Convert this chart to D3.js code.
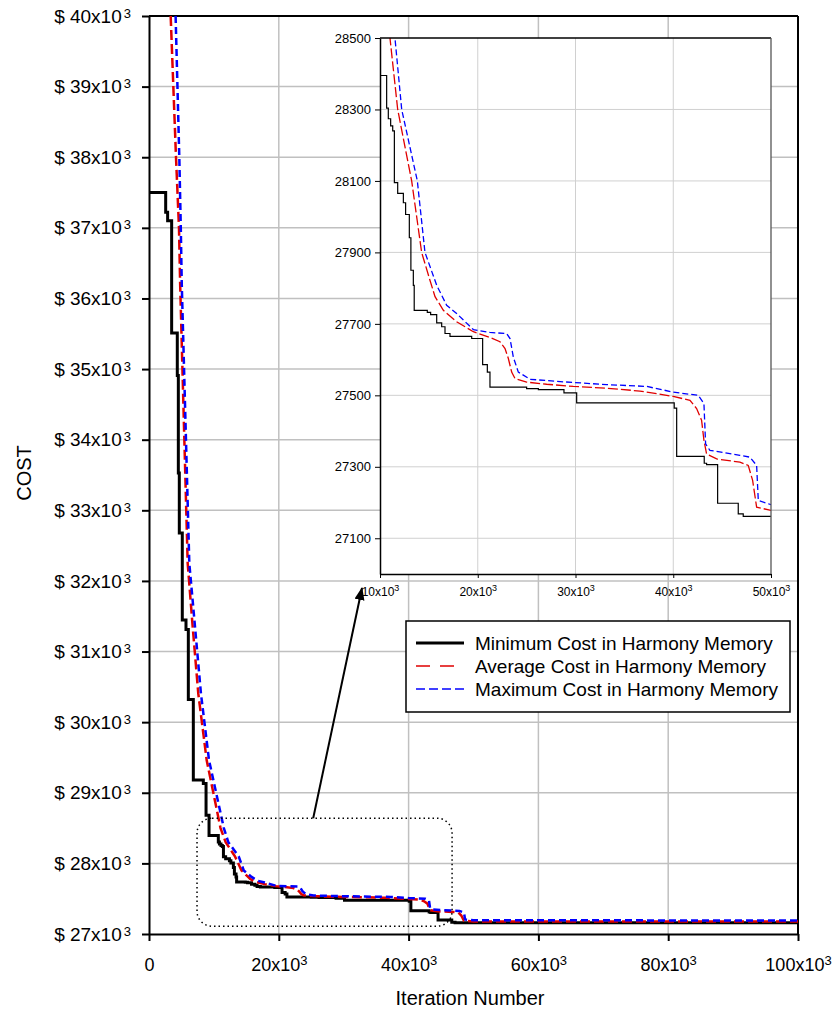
<!DOCTYPE html>
<html>
<head>
<meta charset="utf-8">
<script src="https://cdn.jsdelivr.net/npm/d3@7"></script>
<style>
  body { margin: 0; background: #fff; }
  svg { font-family: "Liberation Sans", Arial, sans-serif; }
</style>
</head>
<body>
<svg></svg>
<script>
const width = 834;
const height = 1010;

// minimum cost in harmony memory (step line)
const minIter = [0, 2570, 2870, 3490, 4360, 4520, 4670, 5130, 5700, 6060, 6830, 8370, 8790, 9250,
  10680, 10850, 11090, 11300, 11470, 11810, 12390, 12620, 13000, 13160, 13410, 13500, 14840, 15180,
  15800, 16310, 16650, 17160, 19380, 20500, 20980, 21250, 25000, 26200, 28820, 30120, 40100, 40350,
  43170, 43410, 44540, 46650, 47160, 100000];
const minCost = [37500, 37220, 37100, 35510, 34910, 33530, 32680, 31445, 31313, 30320, 29180, 29130, 28680, 28395,
  28304, 28274, 28254, 28240, 28095, 28065, 28039, 28006, 27941, 27850, 27808, 27738, 27732, 27726,
  27703, 27692, 27673, 27665, 27659, 27586, 27565, 27523, 27519, 27516, 27507, 27479, 27464, 27329,
  27310, 27306, 27198, 27168, 27161, 27161];

// average cost in harmony memory
const avgIter = [3340, 4160, 4620, 4800, 5960, 6730, 7600, 8890, 11020, 11810, 13240, 14260, 15110, 15630,
  16480, 17840, 19550, 21250, 22270, 22790, 23130, 23470, 23810, 25000, 27050, 29780, 33180, 36590,
  40000, 41710, 42390, 42900, 43140, 43410, 44440, 46820, 47670, 48120, 48530, 50000, 100000];
const avgCost = [40000, 38000, 37000, 36200, 32250, 31350, 30400, 29460, 28500, 28300, 28100, 27900, 27822, 27776,
  27738, 27706, 27678, 27662, 27650, 27631, 27603, 27565, 27547, 27537, 27531, 27525, 27520, 27512,
  27497, 27486, 27463, 27430, 27374, 27336, 27322, 27313, 27304, 27262, 27187, 27178, 27176];

// maximum cost in harmony memory
const maxIter = [4100, 4670, 4900, 5050, 6210, 7090, 8010, 9250, 11530, 12220, 13820, 14600, 15800, 16820,
  17840, 19550, 21250, 22960, 23300, 23640, 24150, 25340, 28070, 33180, 37270, 40000, 42560, 43140,
  43310, 43750, 46820, 47840, 48530, 48700, 50000, 100000];
const maxCost = [40000, 38000, 37000, 36200, 32250, 31350, 30400, 29460, 28500, 28300, 28100, 27900, 27808, 27752,
  27729, 27684, 27676, 27673, 27659, 27607, 27565, 27545, 27539, 27530, 27525, 27509, 27500, 27477,
  27364, 27346, 27332, 27327, 27304, 27206, 27194, 27192];

const xTicks = [0, 20000, 40000, 60000, 80000, 100000];
const yTicks = [27000, 28000, 29000, 30000, 31000, 32000, 33000, 34000, 35000, 36000, 37000, 38000, 39000, 40000];
const insetXTicks = [10000, 20000, 30000, 40000, 50000];
const insetYTicks = [27100, 27300, 27500, 27700, 27900, 28100, 28300, 28500];
const seriesNames = ["Minimum Cost in Harmony Memory", "Average Cost in Harmony Memory", "Maximum Cost in Harmony Memory"];
const seriesColors = ["#000000", "#e00000", "#0000ff"];

// dotted region that the inset zooms into (iterations, cost)
const zoomX = [7400, 46700];
const zoomY = [27110, 28640];

const minData = d3.zip(minIter, minCost);
const avgData = d3.zip(avgIter, avgCost);
const maxData = d3.zip(maxIter, maxCost);

let svg = d3.select("svg")
    .attr("width", width)
    .attr("height", height);

const x = d3.scaleLinear().domain([0, 100000]).range([149, 798]);
const y = d3.scaleLinear().domain([27000, 40000]).range([934, 16]);

const defs = svg.append("defs");
defs.append("clipPath").attr("id", "mainClip")
  .append("rect").attr("x", 149).attr("y", 16).attr("width", 649).attr("height", 918);

// grid
svg.append("g").selectAll("line").data(xTicks.slice(1, -1)).join("line")
  .attr("x1", d => x(d)).attr("x2", d => x(d))
  .attr("y1", y(27000)).attr("y2", y(40000))
  .attr("stroke", "#c0c0c0").attr("stroke-width", 1.5);
svg.append("g").selectAll("line").data(yTicks.slice(1, -1)).join("line")
  .attr("y1", d => y(d)).attr("y2", d => y(d))
  .attr("x1", x(0)).attr("x2", x(100000))
  .attr("stroke", "#c0c0c0").attr("stroke-width", 1.5);

// axes
const xAxis = svg.append("g")
  .attr("transform", `translate(0,${y(27000)})`)
  .call(d3.axisBottom(x).tickValues(xTicks).tickSize(7).tickSizeOuter(0)
    .tickFormat(d => d === 0 ? "0" : (d / 1000) + "x10"));
xAxis.select(".domain").attr("stroke-width", 2);
xAxis.selectAll(".tick line").attr("stroke-width", 2);
xAxis.selectAll(".tick text")
  .attr("y", 24).attr("font-size", 18).attr("fill", "#000")
  .each(function(d) {
    if (d !== 0) d3.select(this).append("tspan").attr("dy", -6).attr("font-size", 13).text("3");
  });

const yAxis = svg.append("g")
  .attr("transform", `translate(${x(0)},0)`)
  .call(d3.axisLeft(y).tickValues(yTicks).tickSize(7).tickSizeOuter(0)
    .tickFormat(d => "$ " + (d / 1000) + "x10"));
yAxis.select(".domain").attr("stroke-width", 2);
yAxis.selectAll(".tick line").attr("stroke-width", 2);
yAxis.selectAll(".tick text")
  .attr("x", -18).attr("font-size", 19).attr("fill", "#000")
  .each(function() {
    d3.select(this).append("tspan").attr("dx", 2).attr("dy", -5).attr("font-size", 13).text("3");
  });

// top and right frame
svg.append("line").attr("x1", x(0)).attr("x2", x(100000)).attr("y1", y(40000)).attr("y2", y(40000))
  .attr("stroke", "#000").attr("stroke-width", 2);
svg.append("line").attr("x1", x(100000)).attr("x2", x(100000)).attr("y1", y(40000)).attr("y2", y(27000))
  .attr("stroke", "#000").attr("stroke-width", 2);

// main series
const lineMain = d3.line().x(d => x(d[0])).y(d => y(d[1]));
const mainLines = svg.append("g").attr("clip-path", "url(#mainClip)");
mainLines.append("path").datum(minData)
  .attr("d", lineMain.curve(d3.curveStepAfter))
  .attr("fill", "none").attr("stroke", seriesColors[0]).attr("stroke-width", 3);
lineMain.curve(d3.curveLinear);
mainLines.append("path").datum(avgData)
  .attr("d", lineMain)
  .attr("fill", "none").attr("stroke", seriesColors[1]).attr("stroke-width", 2.5)
  .attr("stroke-dasharray", "10,4");
mainLines.append("path").datum(maxData)
  .attr("d", lineMain)
  .attr("fill", "none").attr("stroke", seriesColors[2]).attr("stroke-width", 2.5)
  .attr("stroke-dasharray", "7,4");

// dotted zoom region
svg.append("rect")
  .attr("x", x(zoomX[0])).attr("y", y(zoomY[1]))
  .attr("width", x(zoomX[1]) - x(zoomX[0])).attr("height", y(zoomY[0]) - y(zoomY[1]))
  .attr("rx", 15).attr("ry", 15)
  .attr("fill", "none").attr("stroke", "#000").attr("stroke-width", 1.5)
  .attr("stroke-dasharray", "1.5,3");

// axis titles
svg.append("text")
  .attr("transform", "translate(31,473) rotate(-90)")
  .attr("text-anchor", "middle").attr("font-size", 20).text("COST");
svg.append("text")
  .attr("x", 470).attr("y", 1005)
  .attr("text-anchor", "middle").attr("font-size", 20).text("Iteration Number");

// ---- inset ----
const ix = d3.scaleLinear().domain([10000, 50000]).range([380, 771]);
const iy = d3.scaleLinear().domain([27000, 28500]).range([574, 38]);

defs.append("clipPath").attr("id", "insetClip")
  .append("rect").attr("x", ix(10000)).attr("y", iy(28500))
  .attr("width", ix(50000) - ix(10000)).attr("height", iy(27000) - iy(28500));

const inset = svg.append("g");
inset.append("rect")
  .attr("x", ix(10000)).attr("y", iy(28500))
  .attr("width", ix(50000) - ix(10000)).attr("height", iy(27000) - iy(28500))
  .attr("fill", "#fff");

inset.append("g").selectAll("line").data(insetXTicks.slice(1, -1)).join("line")
  .attr("x1", d => ix(d)).attr("x2", d => ix(d))
  .attr("y1", iy(27000)).attr("y2", iy(28500))
  .attr("stroke", "#d0d0d0").attr("stroke-width", 1);
inset.append("g").selectAll("line").data(insetYTicks.slice(0, -1)).join("line")
  .attr("y1", d => iy(d)).attr("y2", d => iy(d))
  .attr("x1", ix(10000)).attr("x2", ix(50000))
  .attr("stroke", "#d0d0d0").attr("stroke-width", 1);

const lineInset = d3.line().x(d => ix(d[0])).y(d => iy(d[1]));
const insetLines = inset.append("g").attr("clip-path", "url(#insetClip)");
insetLines.append("path").datum(minData)
  .attr("d", lineInset.curve(d3.curveStepAfter))
  .attr("fill", "none").attr("stroke", seriesColors[0]).attr("stroke-width", 1.2);
lineInset.curve(d3.curveLinear);
insetLines.append("path").datum(avgData)
  .attr("d", lineInset)
  .attr("fill", "none").attr("stroke", seriesColors[1]).attr("stroke-width", 1.3)
  .attr("stroke-dasharray", "10,3");
insetLines.append("path").datum(maxData)
  .attr("d", lineInset)
  .attr("fill", "none").attr("stroke", seriesColors[2]).attr("stroke-width", 1.3)
  .attr("stroke-dasharray", "6,3");

const ixAxis = inset.append("g")
  .attr("transform", `translate(0,${iy(27000)})`)
  .call(d3.axisBottom(ix).tickValues(insetXTicks).tickSize(4).tickSizeOuter(0)
    .tickFormat(d => (d / 1000) + "x10"));
ixAxis.select(".domain").attr("stroke-width", 1.5);
ixAxis.selectAll(".tick text")
  .attr("y", 22).attr("dy", 0).attr("font-size", 12).attr("fill", "#000")
  .each(function() {
    d3.select(this).append("tspan").attr("dy", -5).attr("font-size", 9).text("3");
  });

const iyAxis = inset.append("g")
  .attr("transform", `translate(${ix(10000)},0)`)
  .call(d3.axisLeft(iy).tickValues(insetYTicks).tickSize(5).tickSizeOuter(0)
    .tickFormat(d3.format("d")));
iyAxis.select(".domain").attr("stroke-width", 1.5);
iyAxis.selectAll(".tick text")
  .attr("x", -9).attr("font-size", 13).attr("fill", "#000");

inset.append("line").attr("x1", ix(10000)).attr("x2", ix(50000)).attr("y1", iy(28500)).attr("y2", iy(28500))
  .attr("stroke", "#000").attr("stroke-width", 1.3);
inset.append("line").attr("x1", ix(50000)).attr("x2", ix(50000)).attr("y1", iy(28500)).attr("y2", iy(27000))
  .attr("stroke", "#555").attr("stroke-width", 1.3);

// arrow from dotted region to the inset
defs.append("marker").attr("id", "arrowHead")
  .attr("markerUnits", "userSpaceOnUse")
  .attr("markerWidth", 14).attr("markerHeight", 12)
  .attr("refX", 12).attr("refY", 5).attr("orient", "auto")
  .append("path").attr("d", "M0,0 L13,5 L0,10 Z").attr("fill", "#000");
svg.append("line")
  .attr("x1", x(25300)).attr("y1", y(zoomY[1]))
  .attr("x2", ix(10000) - 18).attr("y2", iy(27000) + 14)
  .attr("stroke", "#000").attr("stroke-width", 2)
  .attr("marker-end", "url(#arrowHead)");

// legend
const legend = svg.append("g").attr("transform", "translate(406,621)");
legend.append("rect").attr("width", 384).attr("height", 91)
  .attr("fill", "#fff").attr("stroke", "#000").attr("stroke-width", 1.5);
const dashes = [null, "14,10", "9,4"];
const widths = [3, 1.5, 1.5];
seriesNames.forEach((name, i) => {
  const ly = 22 + i * 23;
  legend.append("line").attr("x1", 10).attr("x2", 58).attr("y1", ly).attr("y2", ly)
    .attr("stroke", seriesColors[i]).attr("stroke-width", widths[i])
    .attr("stroke-dasharray", dashes[i]);
  legend.append("text").attr("x", 69).attr("y", ly).attr("dy", "0.35em")
    .attr("font-size", 19).text(name);
});
</script>
</body>
</html>
